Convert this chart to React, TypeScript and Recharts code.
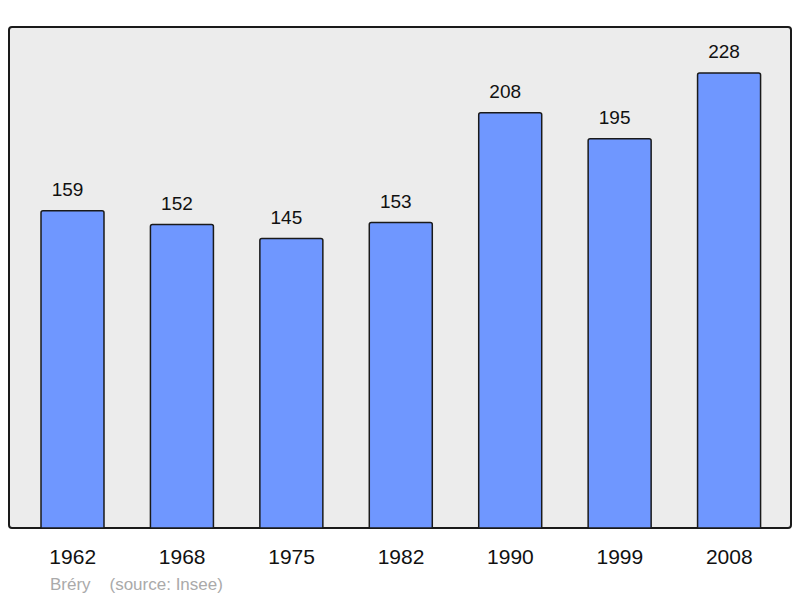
import { BarChart, Bar, XAxis, YAxis, LabelList } from 'recharts'

const years = ['1962', '1968', '1975', '1982', '1990', '1999', '2008']
const population = [159, 152, 145, 153, 208, 195, 228]

const data = years.map((year, i) => ({ year, value: population[i] }))

const FONT = '"Liberation Sans", Arial, sans-serif'

export default function App() {
  return (
    <div style={{ position: 'absolute', left: 0, top: 0, width: 800, height: 598, background: '#fff', fontFamily: FONT }}>
      {/* plot frame */}
      <div
        style={{
          position: 'absolute',
          left: 8,
          top: 26,
          width: 784,
          height: 503,
          boxSizing: 'border-box',
          border: '2px solid #1a1a1a',
          borderRadius: 4,
          background: '#ececec',
        }}
      />
      <div style={{ position: 'absolute', left: 0, top: 0 }}>
        <BarChart width={800} height={598} data={data} margin={{ top: 27, right: 9, left: 9, bottom: 40 }}>
          <XAxis
            dataKey="year"
            height={30}
            axisLine={false}
            tickLine={false}
            tickSize={0}
            tickMargin={21}
            padding={{ left: 9, right: 7 }}
            tick={{ fill: '#111', fontSize: 21, fontFamily: FONT }}
            interval={0}
          />
          <YAxis hide domain={[0, 251]} />
          <Bar dataKey="value" barSize={63} fill="#6f97ff" stroke="#1a1a1a" strokeWidth={1.5} radius={[2, 2, 0, 0]} isAnimationActive={false}>
            <LabelList dataKey="value" position="top" offset={15} dx={-5} fill="#111" fontSize={19} fontFamily={FONT} />
          </Bar>
        </BarChart>
      </div>
      <div style={{ position: 'absolute', left: 50, top: 575, fontSize: 17, color: '#aaa', whiteSpace: 'pre' }}>
        {'Bréry    (source: Insee)'}
      </div>
    </div>
  )
}
